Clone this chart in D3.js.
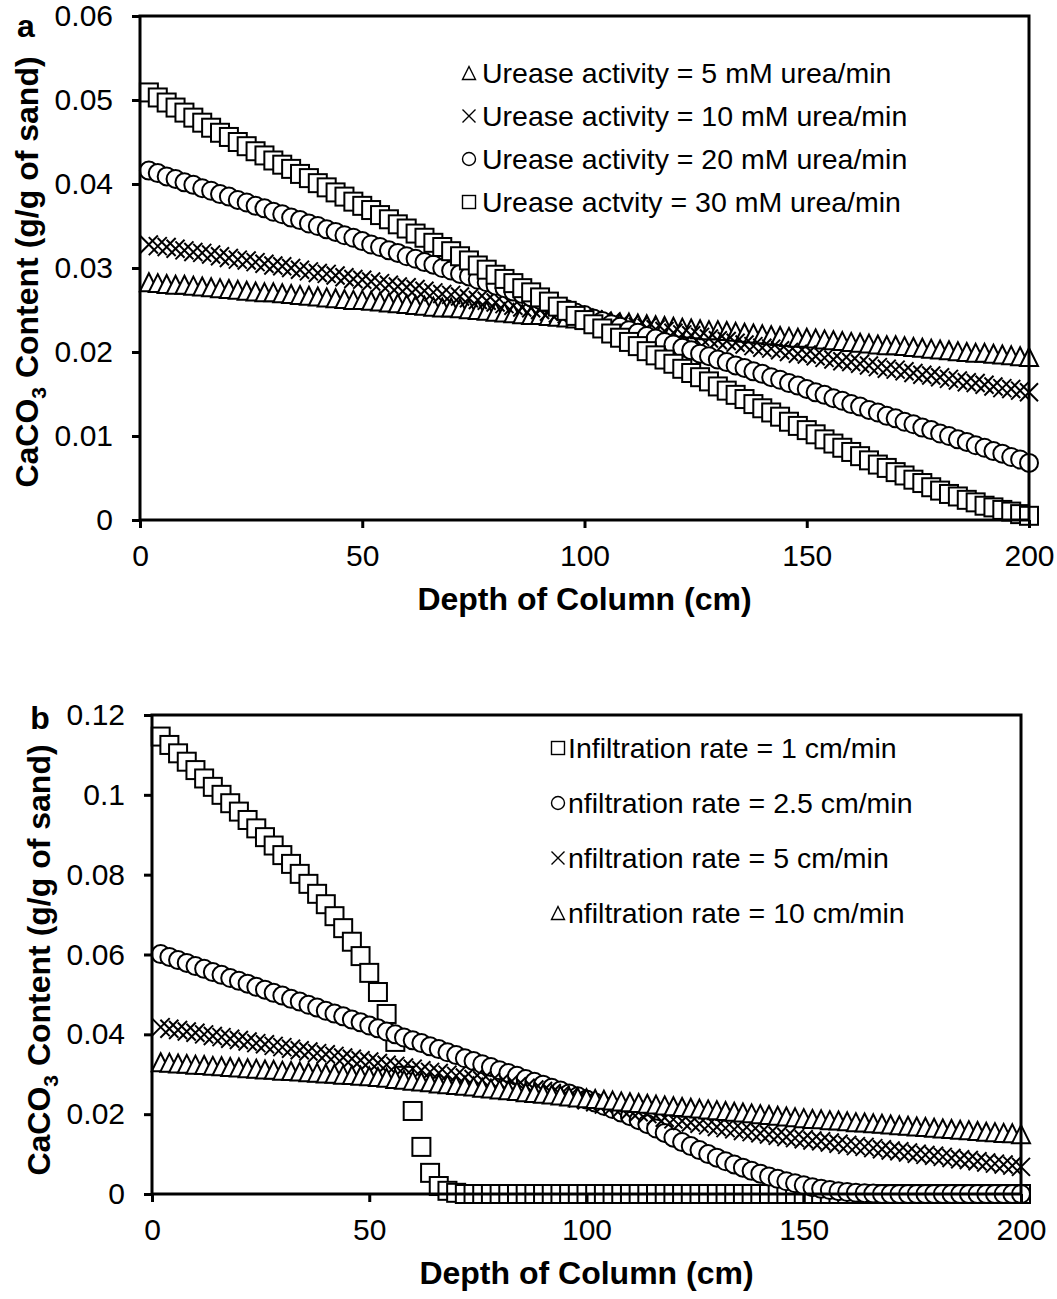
<!DOCTYPE html>
<html>
<head>
<meta charset="utf-8">
<script src="https://cdn.jsdelivr.net/npm/d3@7"></script>
<style>
body { margin: 0; background: #fff; }
text { font-family: "Liberation Sans", Arial, sans-serif; fill: #000; }
</style>
</head>
<body>
<script>
// depth of column (cm), same for all series
var depthCm = [2,4,6,8,10,12,14,16,18,20,22,24,26,28,30,32,34,36,38,40,
  42,44,46,48,50,52,54,56,58,60,62,64,66,68,70,72,74,76,78,80,
  82,84,86,88,90,92,94,96,98,100,102,104,106,108,110,112,114,116,118,120,
  122,124,126,128,130,132,134,136,138,140,142,144,146,148,150,152,154,156,158,160,
  162,164,166,168,170,172,174,176,178,180,182,184,186,188,190,192,194,196,198,200];

// panel a : urease activity
var urease5 = [0.0283,0.0282,0.0281,0.0280,0.0280,0.0279,0.0278,0.0277,0.0276,0.0275,
  0.0274,0.0273,0.0272,0.0271,0.0271,0.0270,0.0269,0.0268,0.0267,0.0266,
  0.0265,0.0264,0.0263,0.0262,0.0262,0.0261,0.0260,0.0259,0.0258,0.0257,
  0.0256,0.0255,0.0254,0.0253,0.0253,0.0252,0.0251,0.0250,0.0249,0.0248,
  0.0247,0.0246,0.0245,0.0244,0.0244,0.0243,0.0242,0.0241,0.0240,0.0239,
  0.0238,0.0237,0.0236,0.0235,0.0235,0.0234,0.0233,0.0232,0.0231,0.0230,
  0.0229,0.0228,0.0227,0.0226,0.0226,0.0225,0.0224,0.0223,0.0222,0.0221,
  0.0220,0.0219,0.0218,0.0217,0.0217,0.0216,0.0215,0.0214,0.0213,0.0212,
  0.0211,0.0210,0.0209,0.0208,0.0208,0.0207,0.0206,0.0205,0.0204,0.0203,
  0.0202,0.0201,0.0200,0.0199,0.0199,0.0198,0.0197,0.0196,0.0195,0.0194];
var urease10 = [0.0328,0.0326,0.0325,0.0323,0.0321,0.0319,0.0318,0.0316,0.0314,0.0312,
  0.0310,0.0309,0.0307,0.0305,0.0303,0.0302,0.0300,0.0298,0.0296,0.0294,
  0.0293,0.0291,0.0289,0.0287,0.0286,0.0284,0.0282,0.0280,0.0278,0.0277,
  0.0275,0.0273,0.0271,0.0269,0.0268,0.0266,0.0264,0.0262,0.0261,0.0259,
  0.0257,0.0255,0.0253,0.0252,0.0250,0.0248,0.0246,0.0245,0.0243,0.0241,
  0.0239,0.0237,0.0236,0.0234,0.0232,0.0230,0.0229,0.0227,0.0225,0.0223,
  0.0221,0.0220,0.0218,0.0216,0.0214,0.0213,0.0211,0.0209,0.0207,0.0205,
  0.0204,0.0202,0.0200,0.0198,0.0197,0.0195,0.0193,0.0191,0.0189,0.0188,
  0.0186,0.0184,0.0182,0.0180,0.0179,0.0177,0.0175,0.0173,0.0172,0.0170,
  0.0168,0.0166,0.0164,0.0163,0.0161,0.0159,0.0157,0.0156,0.0154,0.0152];
var urease20 = [0.0416,0.0413,0.0409,0.0406,0.0402,0.0399,0.0395,0.0392,0.0388,0.0385,
  0.0381,0.0378,0.0374,0.0371,0.0367,0.0364,0.0360,0.0357,0.0353,0.0350,
  0.0346,0.0343,0.0339,0.0336,0.0332,0.0328,0.0325,0.0321,0.0318,0.0314,
  0.0311,0.0307,0.0304,0.0300,0.0297,0.0293,0.0290,0.0286,0.0283,0.0279,
  0.0276,0.0272,0.0269,0.0265,0.0262,0.0258,0.0254,0.0251,0.0247,0.0244,
  0.0240,0.0237,0.0233,0.0230,0.0226,0.0223,0.0219,0.0216,0.0212,0.0209,
  0.0205,0.0202,0.0198,0.0195,0.0191,0.0188,0.0184,0.0181,0.0177,0.0174,
  0.0170,0.0167,0.0163,0.0160,0.0156,0.0152,0.0149,0.0145,0.0142,0.0138,
  0.0135,0.0131,0.0128,0.0124,0.0121,0.0117,0.0114,0.0110,0.0107,0.0103,
  0.0100,0.0096,0.0093,0.0089,0.0086,0.0082,0.0079,0.0075,0.0072,0.0068];
var urease30 = [0.0509,0.0503,0.0497,0.0491,0.0485,0.0479,0.0473,0.0467,0.0461,0.0456,
  0.0450,0.0445,0.0439,0.0434,0.0428,0.0423,0.0418,0.0412,0.0407,0.0401,
  0.0396,0.0390,0.0385,0.0379,0.0374,0.0369,0.0363,0.0358,0.0352,0.0347,
  0.0341,0.0336,0.0330,0.0325,0.0320,0.0314,0.0309,0.0303,0.0298,0.0292,
  0.0287,0.0282,0.0276,0.0271,0.0265,0.0260,0.0254,0.0249,0.0243,0.0238,
  0.0233,0.0228,0.0222,0.0217,0.0212,0.0207,0.0201,0.0196,0.0191,0.0186,
  0.0180,0.0175,0.0170,0.0165,0.0159,0.0154,0.0149,0.0144,0.0138,0.0133,
  0.0128,0.0123,0.0117,0.0112,0.0107,0.0102,0.0096,0.0091,0.0086,0.0081,
  0.0076,0.0071,0.0066,0.0062,0.0057,0.0053,0.0048,0.0044,0.0039,0.0035,
  0.0031,0.0028,0.0024,0.0021,0.0017,0.0015,0.0012,0.0010,0.0007,0.0005];

// panel b : infiltration rate
var infil1 = [0.1146,0.1125,0.1104,0.1083,0.1062,0.1041,0.1020,0.1000,0.0979,0.0958,
  0.0937,0.0916,0.0894,0.0873,0.0849,0.0827,0.0802,0.0777,0.0752,0.0726,
  0.0696,0.0666,0.0632,0.0596,0.0554,0.0506,0.0451,0.0381,0.0296,0.0208,
  0.0118,0.0053,0.0020,0.0008,0.0003,0,0,0,0,0,
  0,0,0,0,0,0,0,0,0,0,
  0,0,0,0,0,0,0,0,0,0,
  0,0,0,0,0,0,0,0,0,0,
  0,0,0,0,0,0,0,0,0,0,
  0,0,0,0,0,0,0,0,0,0,
  0,0,0,0,0,0,0,0,0,0];
var infil25 = [0.0601,0.0594,0.0586,0.0579,0.0571,0.0564,0.0556,0.0549,0.0541,0.0534,
  0.0527,0.0519,0.0512,0.0504,0.0497,0.0489,0.0482,0.0474,0.0467,0.0459,
  0.0452,0.0445,0.0437,0.0430,0.0422,0.0415,0.0407,0.0400,0.0392,0.0385,
  0.0378,0.0370,0.0363,0.0355,0.0348,0.0340,0.0333,0.0325,0.0318,0.0310,
  0.0303,0.0296,0.0288,0.0281,0.0274,0.0266,0.0259,0.0252,0.0245,0.0237,
  0.0229,0.0221,0.0213,0.0204,0.0195,0.0185,0.0175,0.0164,0.0153,0.0141,
  0.0130,0.0120,0.0110,0.0100,0.0091,0.0082,0.0074,0.0066,0.0058,0.0051,
  0.0044,0.0038,0.0032,0.0027,0.0022,0.0017,0.0013,0.0010,0.0007,0.0005,
  0.0003,0.0002,0.0001,0,0,0,0,0,0,0,
  0,0,0,0,0,0,0,0,0,0];
var infil5 = [0.0418,0.0414,0.0411,0.0407,0.0404,0.0400,0.0396,0.0393,0.0389,0.0386,
  0.0382,0.0378,0.0375,0.0371,0.0368,0.0364,0.0360,0.0357,0.0353,0.0350,
  0.0346,0.0342,0.0339,0.0335,0.0332,0.0328,0.0324,0.0321,0.0317,0.0314,
  0.0310,0.0306,0.0303,0.0299,0.0296,0.0292,0.0288,0.0285,0.0281,0.0278,
  0.0274,0.0270,0.0266,0.0262,0.0258,0.0253,0.0249,0.0244,0.0240,0.0235,
  0.0230,0.0224,0.0219,0.0214,0.0209,0.0205,0.0200,0.0196,0.0191,0.0187,
  0.0183,0.0179,0.0176,0.0172,0.0168,0.0165,0.0162,0.0158,0.0155,0.0152,
  0.0149,0.0146,0.0143,0.0140,0.0137,0.0134,0.0132,0.0129,0.0126,0.0123,
  0.0120,0.0118,0.0115,0.0112,0.0109,0.0107,0.0104,0.0101,0.0098,0.0096,
  0.0093,0.0090,0.0087,0.0085,0.0082,0.0079,0.0076,0.0074,0.0071,0.0068];
var infil10 = [0.0330,0.0329,0.0327,0.0326,0.0324,0.0323,0.0321,0.0320,0.0318,0.0317,
  0.0315,0.0314,0.0312,0.0311,0.0309,0.0308,0.0307,0.0305,0.0304,0.0302,
  0.0301,0.0299,0.0298,0.0296,0.0295,0.0293,0.0291,0.0288,0.0286,0.0284,
  0.0282,0.0280,0.0277,0.0275,0.0273,0.0271,0.0269,0.0266,0.0264,0.0262,
  0.0260,0.0258,0.0255,0.0253,0.0251,0.0249,0.0247,0.0244,0.0242,0.0240,
  0.0238,0.0236,0.0234,0.0232,0.0230,0.0228,0.0226,0.0224,0.0222,0.0220,
  0.0218,0.0216,0.0214,0.0212,0.0210,0.0208,0.0206,0.0204,0.0202,0.0200,
  0.0198,0.0196,0.0194,0.0192,0.0190,0.0188,0.0187,0.0185,0.0184,0.0182,
  0.0180,0.0179,0.0177,0.0176,0.0174,0.0172,0.0171,0.0169,0.0168,0.0166,
  0.0164,0.0163,0.0161,0.0160,0.0158,0.0156,0.0155,0.0153,0.0152,0.0150];

var xTicks = [0, 50, 100, 150, 200];
var yTicksA = [0, 0.01, 0.02, 0.03, 0.04, 0.05, 0.06];
var yTicksB = [0, 0.02, 0.04, 0.06, 0.08, 0.1, 0.12];

var labelsA = ["Urease activity = 5 mM urea/min", "Urease activity = 10 mM urea/min",
  "Urease activity = 20 mM urea/min", "Urease actvity = 30 mM urea/min"];
var labelsB = ["Infiltration rate = 1 cm/min", "nfiltration rate = 2.5 cm/min",
  "nfiltration rate = 5 cm/min", "nfiltration rate = 10 cm/min"];

var W = 1057, H = 1299;
var svg = d3.select("body").append("svg").attr("width", W).attr("height", H);

// marker drawing
function marker(g, type, s, sw) {
  var h = s / 2;
  if (type == "square") {
    g.append("rect").attr("x", -h).attr("y", -h).attr("width", s).attr("height", s)
      .attr("fill", "#fff").attr("stroke", "#000").attr("stroke-width", sw);
  } else if (type == "circle") {
    g.append("circle").attr("r", h)
      .attr("fill", "#fff").attr("stroke", "#000").attr("stroke-width", sw);
  } else if (type == "triangle") {
    g.append("path").attr("d", "M0," + (-h) + "L" + h + "," + h + "L" + (-h) + "," + h + "Z")
      .attr("fill", "#fff").attr("stroke", "#000").attr("stroke-width", sw);
  } else {
    g.append("path").attr("d", "M" + (-h) + "," + (-h) + "L" + h + "," + h + "M" + h + "," + (-h) + "L" + (-h) + "," + h)
      .attr("fill", "none").attr("stroke", "#000").attr("stroke-width", sw);
  }
}

function tickFmt(d) { return d === 0 ? "0" : String(+d.toFixed(2)); }

function drawPanel(p) {
  var x = d3.scaleLinear().domain([0, 200]).range([p.left, p.right]);
  var y = d3.scaleLinear().domain([0, p.ymax]).range([p.bottom, p.top]);
  var g = svg.append("g");

  // series (drawn in legend order)
  p.series.forEach(function(s) {
    var pts = g.append("g").selectAll("g").data(depthCm).enter().append("g")
      .attr("transform", function(d, i) { return "translate(" + x(d) + "," + y(s.values[i]) + ")"; });
    pts.each(function() { marker(d3.select(this), s.type, 18, 2); });
  });

  // plot border
  g.append("rect").attr("x", p.left).attr("y", p.top)
    .attr("width", p.right - p.left).attr("height", p.bottom - p.top)
    .attr("fill", "none").attr("stroke", "#000").attr("stroke-width", 3);

  var xAxis = g.append("g").attr("transform", "translate(0," + p.bottom + ")")
    .call(d3.axisBottom(x).tickValues(xTicks).tickSize(8).tickPadding(17).tickFormat(d3.format("d")));
  var yAxis = g.append("g").attr("transform", "translate(" + p.left + ",0)")
    .call(d3.axisLeft(y).tickValues(p.yticks).tickSize(8).tickPadding(19).tickFormat(tickFmt));
  [xAxis, yAxis].forEach(function(a) {
    a.select(".domain").remove();
    a.selectAll("line").attr("stroke", "#000").attr("stroke-width", 3);
    a.selectAll("text").attr("font-size", 30).attr("font-family", "Liberation Sans, Arial, sans-serif").attr("fill", "#000");
  });

  g.append("text").attr("x", (p.left + p.right) / 2).attr("y", p.bottom + 90)
    .attr("text-anchor", "middle").attr("font-size", 32).attr("font-weight", "bold")
    .text("Depth of Column (cm)");

  var yt = g.append("text").attr("transform", "translate(" + p.ytx + "," + p.yty + ") rotate(-90)")
    .attr("text-anchor", "middle").attr("font-size", 32).attr("font-weight", "bold");
  yt.append("tspan").text("CaCO");
  yt.append("tspan").attr("font-size", 21).attr("dy", 8).text("3");
  yt.append("tspan").attr("dy", -8).text(" Content (g/g of sand)");

  g.append("text").attr("x", p.lx).attr("y", p.ly).attr("text-anchor", "middle")
    .attr("font-size", 32).attr("font-weight", "bold").text(p.letter);

  // legend
  var lg = g.append("g").selectAll("g").data(p.series).enter().append("g")
    .attr("transform", function(d, i) { return "translate(" + p.legX + "," + (p.legY + i * p.legStep) + ")"; });
  lg.each(function(d) { marker(d3.select(this), d.type, 13, 1.4); });
  lg.append("text").attr("x", p.legTx).attr("dy", "0.36em").attr("font-size", 28.5)
    .text(function(d) { return d.label; });
}

drawPanel({
  left: 140, right: 1029, top: 16, bottom: 520, ymax: 0.06, yticks: yTicksA,
  ytx: 38, yty: 272, lx: 26, ly: 37, letter: "a",
  legX: 469, legY: 73, legStep: 43, legTx: 13,
  series: [
    {type: "triangle", values: urease5, label: labelsA[0]},
    {type: "cross", values: urease10, label: labelsA[1]},
    {type: "circle", values: urease20, label: labelsA[2]},
    {type: "square", values: urease30, label: labelsA[3]}
  ]
});

drawPanel({
  left: 152, right: 1021, top: 715, bottom: 1194, ymax: 0.12, yticks: yTicksB,
  ytx: 50, yty: 960, lx: 40, ly: 729, letter: "b",
  legX: 558, legY: 748, legStep: 55, legTx: 10,
  series: [
    {type: "square", values: infil1, label: labelsB[0]},
    {type: "circle", values: infil25, label: labelsB[1]},
    {type: "cross", values: infil5, label: labelsB[2]},
    {type: "triangle", values: infil10, label: labelsB[3]}
  ]
});
</script>
</body>
</html>
